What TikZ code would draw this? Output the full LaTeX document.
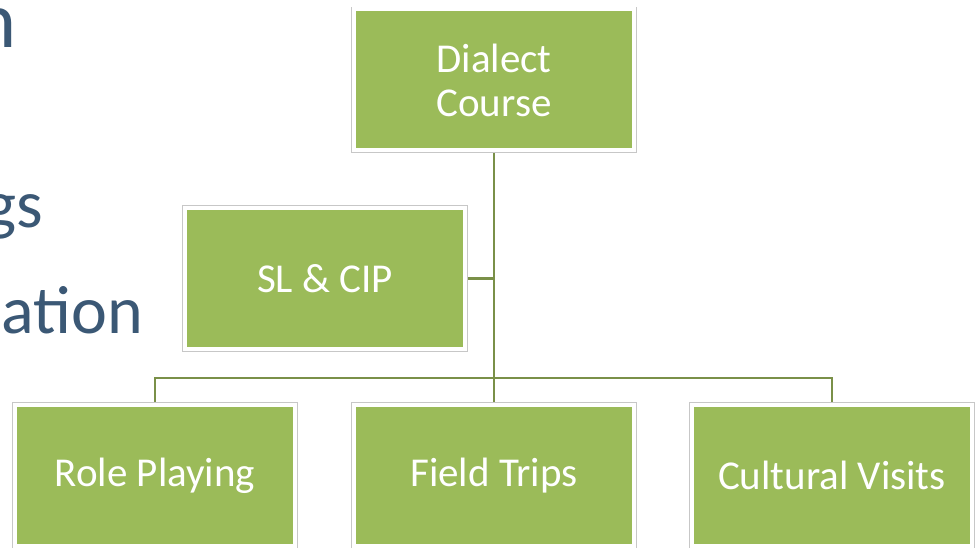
\documentclass[tikz,border=0pt]{standalone}
\usepackage{fontspec}
\setmainfont{Carlito}
\usetikzlibrary{backgrounds}
\definecolor{boxgreen}{HTML}{9BBB59}
\definecolor{linegreen}{HTML}{7A9048}
\definecolor{titleblue}{HTML}{3B5875}
\tikzset{
  orgbox/.style={rectangle, fill=boxgreen, draw=white, line width=4pt,
    preaction={draw=black!22, line width=5.6pt},
    minimum width=280pt, minimum height=141pt, inner sep=0pt,
    text=white, align=center, font=\fontsize{41}{44}\selectfont},
  conn/.style={draw=linegreen, line width=2.6pt},
  bigtext/.style={anchor=base east, text=titleblue, inner sep=0pt}
}
\begin{document}
\begin{tikzpicture}[x=1pt,y=-1pt]
\useasboundingbox (0,0) rectangle (977,548);
\clip (0,0) rectangle (977,548);
\node[bigtext, font=\fontsize{80}{90}\selectfont] (t1) at (17,48) {n};
\node[bigtext, font=\fontsize{68}{80}\selectfont] (t2) at (43,227) {gs};
\node[bigtext, font=\fontsize{68}{80}\selectfont] (t3) at (143,333) {ation};
\node[orgbox] (dialect) at (494,80) {Dialect\\Course};
\node[orgbox] (sl) at (325,278.5) {SL \& CIP};
\node[orgbox] (role) at (155,475.5) {Role Playing};
\node[orgbox] (field) at (494,475.5) {Field Trips};
\node[orgbox] (cult) at (832,475.5) {Cultural Visits};
\coordinate (bar) at (494,378);
\begin{pgfonlayer}{background}
\draw[conn] (dialect.south) -- (field.north);
\draw[conn] (sl.east) -- (sl.east -| dialect.south);
\draw[conn] (role.north) |- (bar) -| (cult.north);
\end{pgfonlayer}
\end{tikzpicture}
\end{document}
